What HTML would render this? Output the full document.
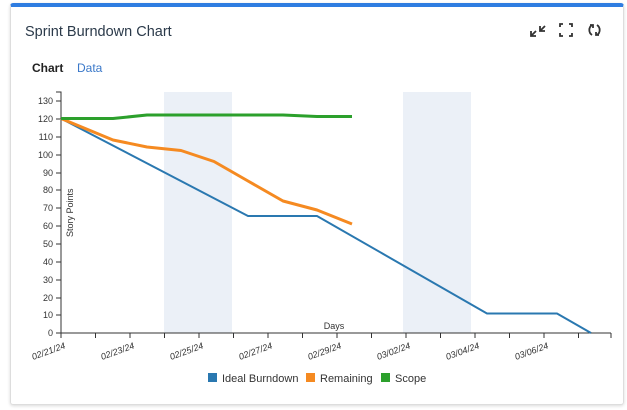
<!DOCTYPE html>
<html><head><style>
body{margin:0;width:627px;height:410px;background:#fff;font-family:"Liberation Sans",sans-serif;overflow:hidden}
.card{position:absolute;left:10px;top:3px;width:614px;height:402px;border:1px solid #ddd;border-top:4px solid #2f7de1;box-sizing:border-box;border-radius:3px;box-shadow:0 1px 3px rgba(0,0,0,.15)}
</style></head><body>
<div class="card"></div>
<svg width="627" height="410" style="position:absolute;left:0;top:0" font-family="Liberation Sans, sans-serif">
<text x="25" y="36" font-size="14.5" fill="#2b3a4a">Sprint Burndown Chart</text>
<text x="32" y="72" font-size="12" font-weight="bold" fill="#222">Chart</text>
<text x="77" y="72" font-size="12" fill="#3a78c9">Data</text>
<g stroke="#333" stroke-width="1.8" fill="none">
<path d="M531 36l5-5M531 31v5h5M545 26l-5 5M540 26v5h5"/>
<path d="M560 27v-3h3M569 24h3v3M572 33v3h-3M563 36h-3v-3"/>
<path d="M592 25a6 6 0 0 0 0 10M597 35a6 6 0 0 0 0-10M590 25h3v3M599 35h-3v-3"/>
</g>
<rect x="164" y="92" width="68" height="241" fill="#ebf0f7"/>
<rect x="403" y="92" width="68" height="241" fill="#ebf0f7"/>
<g stroke="#333" stroke-width="1" fill="none">
<path d="M56 92H61V333H611"/>
<path d="M56 101H61M56 119H61M56 137H61M56 155H61M56 173H61M56 190H61M56 208H61M56 226H61M56 244H61M56 262H61M56 280H61M56 298H61M56 315H61M56 333H61"/>
<path d="M61 333v5M95.5 333v5M130 333v5M164.5 333v5M199 333v5M233.5 333v5M268 333v5M302.5 333v5M337 333v5M371.5 333v5M406 333v5M440.5 333v5M475 333v5M509.5 333v5M544 333v5M578.5 333v5M611 333v5"/>
</g>
<g font-size="9" fill="#333" text-anchor="end">
<text x="53" y="104">130</text><text x="53" y="122">120</text><text x="53" y="140">110</text><text x="53" y="158">100</text><text x="53" y="176">90</text><text x="53" y="193">80</text><text x="53" y="211">70</text><text x="53" y="229">60</text><text x="53" y="247">50</text><text x="53" y="265">40</text><text x="53" y="283">30</text><text x="53" y="301">20</text><text x="53" y="318">10</text><text x="53" y="336">0</text>
</g>
<text x="73" y="237" font-size="9" fill="#333" transform="rotate(-90 73 237)">Story Points</text>
<text x="334" y="329" font-size="9" fill="#333" text-anchor="middle">Days</text>
<g font-size="9" fill="#333" text-anchor="end" font-style="italic">
<text transform="translate(66 348) rotate(-20)">02/21/24</text>
<text transform="translate(135 348) rotate(-20)">02/23/24</text>
<text transform="translate(204 348) rotate(-20)">02/25/24</text>
<text transform="translate(273 348) rotate(-20)">02/27/24</text>
<text transform="translate(342 348) rotate(-20)">02/29/24</text>
<text transform="translate(411 348) rotate(-20)">03/02/24</text>
<text transform="translate(480 348) rotate(-20)">03/04/24</text>
<text transform="translate(549 348) rotate(-20)">03/06/24</text>
</g>
<g fill="none" stroke-linejoin="round">
<polyline stroke="#2a78b0" stroke-width="2" points="61,118.5 248,216 317,216 487,313.5 557,313.5 591,333"/>
<polyline stroke="#f58a21" stroke-width="3" points="61,118.5 113,140 147,147 181,150.5 214,161.5 248,181 283,201 317,210 352,224"/>
<polyline stroke="#2ca02c" stroke-width="3" points="61,118.5 113,118.5 147,115 283,115 317,116.5 352,116.5"/>
</g>
<g font-size="11" fill="#333">
<rect x="208" y="373" width="9" height="9" fill="#2a78b0"/><text x="222" y="382">Ideal Burndown</text>
<rect x="306" y="373" width="9" height="9" fill="#f58a21"/><text x="320" y="382">Remaining</text>
<rect x="381" y="373" width="9" height="9" fill="#2ca02c"/><text x="395" y="382">Scope</text>
</g>
</svg>
</body></html>
